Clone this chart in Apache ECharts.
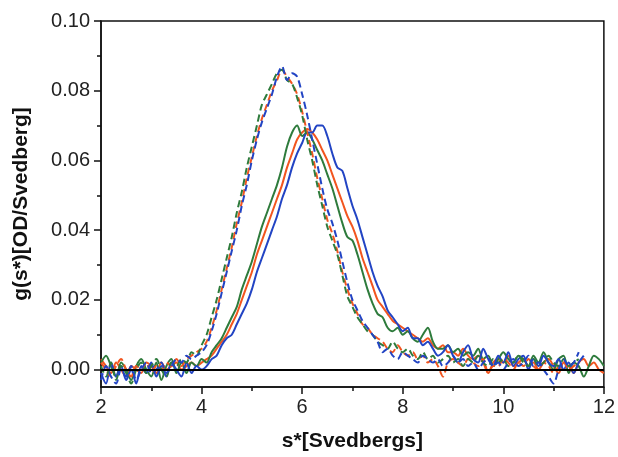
<!DOCTYPE html>
<html>
<head>
<meta charset="utf-8">
<script src="https://cdn.jsdelivr.net/npm/echarts@6/dist/echarts.min.js"></script>
<style>html,body{margin:0;padding:0;background:#fff;}#c{width:618px;height:457px;}</style>
</head>
<body>
<div id="c"></div>
<script>
// sedimentation coefficient grid (Svedbergs)
const sValues = [
 2.0,2.1,2.2,2.3,2.4,2.5,2.6,2.7,2.8,2.9,
 3.0,3.1,3.2,3.3,3.4,3.5,3.6,3.7,3.8,3.9,
 4.0,4.1,4.2,4.3,4.4,4.5,4.6,4.7,4.8,4.9,
 5.0,5.1,5.2,5.3,5.4,5.5,5.6,5.7,5.8,5.9,
 6.0,6.1,6.2,6.3,6.4,6.5,6.6,6.7,6.8,6.9,
 7.0,7.1,7.2,7.3,7.4,7.5,7.6,7.7,7.8,7.9,
 8.0,8.1,8.2,8.3,8.4,8.5,8.6,8.7,8.8,8.9,
 9.0,9.1,9.2,9.3,9.4,9.5,9.6,9.7,9.8,9.9,
 10.0,10.1,10.2,10.3,10.4,10.5,10.6,10.7,10.8,10.9,
 11.0,11.1,11.2,11.3,11.4,11.5,11.6,11.7,11.8,11.9,
 12.0
];
// solid curves
const solidGreen = [
 0.002,0.004,0.001,-0.002,0.002,0.000,-0.003,0.001,0.003,0.000,
 -0.002,0.002,-0.003,0.001,0.003,-0.001,0.002,-0.001,0.002,0.001,
 0.003,0.002,0.005,0.007,0.009,0.012,0.015,0.018,0.023,0.027,
 0.031,0.036,0.041,0.045,0.049,0.053,0.058,0.064,0.068,0.070,
 0.067,0.068,0.066,0.063,0.060,0.056,0.052,0.047,0.042,0.038,
 0.037,0.033,0.028,0.023,0.019,0.016,0.015,0.012,0.011,0.012,
 0.010,0.011,0.009,0.008,0.010,0.012,0.008,0.006,0.006,0.007,
 0.005,0.006,0.004,0.005,0.004,0.006,0.003,0.004,0.001,0.003,
 0.005,0.003,0.002,0.004,0.003,0.001,0.004,0.002,0.005,0.002,
 0.000,0.003,0.004,-0.001,0.002,0.001,-0.002,0.001,0.004,0.003,
 0.001
];
const solidOrange = [
 0.003,0.001,-0.001,0.002,0.000,-0.002,0.001,0.000,-0.001,0.002,
 0.001,-0.001,0.002,0.000,0.001,0.002,0.000,0.001,0.002,0.001,
 0.002,0.003,0.004,0.006,0.008,0.010,0.013,0.016,0.020,0.024,
 0.028,0.033,0.037,0.041,0.045,0.049,0.053,0.058,0.062,0.066,
 0.068,0.069,0.068,0.066,0.063,0.060,0.056,0.052,0.048,0.044,
 0.041,0.037,0.032,0.028,0.024,0.020,0.018,0.016,0.014,0.013,
 0.012,0.011,0.010,0.009,0.008,0.009,0.007,0.006,0.007,0.005,
 0.005,0.004,0.006,0.004,0.003,0.004,0.002,-0.001,0.002,0.003,
 0.002,0.004,0.001,0.002,0.003,0.001,0.002,0.000,0.002,0.003,
 0.001,-0.001,0.002,0.001,-0.001,0.002,0.003,0.001,0.002,0.000,
 -0.001
];
const solidBlue = [
 -0.001,-0.004,0.002,-0.002,0.001,-0.003,0.000,-0.004,0.001,-0.001,
 0.002,-0.002,0.001,-0.002,0.002,0.000,-0.002,0.002,-0.001,0.001,
 0.000,0.001,0.003,0.004,0.007,0.009,0.010,0.013,0.016,0.019,
 0.023,0.028,0.032,0.036,0.040,0.044,0.049,0.053,0.058,0.062,
 0.065,0.068,0.068,0.070,0.070,0.067,0.062,0.058,0.057,0.052,
 0.047,0.043,0.038,0.033,0.028,0.024,0.021,0.017,0.015,0.013,
 0.011,0.012,0.009,0.009,0.007,0.008,0.006,0.004,0.005,0.007,
 0.004,0.002,0.005,0.007,0.003,0.002,0.006,0.003,0.001,0.004,
 0.002,0.005,0.001,0.003,0.004,0.000,0.003,0.001,0.004,0.002,
 0.001,0.003,0.000,0.002,-0.001,0.002,0.004
];
// dashed curves
const dashedGreen = [
 0.001,-0.002,0.002,-0.003,0.001,-0.001,-0.004,0.000,0.002,-0.001,
 0.001,0.003,0.000,-0.002,0.002,0.001,0.003,0.002,0.005,0.004,
 0.007,0.010,0.015,0.020,0.026,0.032,0.038,0.045,0.051,0.058,
 0.064,0.070,0.076,0.079,0.082,0.085,0.086,0.083,0.082,0.078,
 0.073,0.066,0.060,0.053,0.047,0.041,0.037,0.033,0.027,0.021,
 0.018,0.015,0.013,0.011,0.010,0.008,0.007,0.006,0.008,0.006,
 0.005,0.006,0.004,0.003,0.005,0.003,0.004,0.002,0.003,0.004,
 0.002,0.003,0.001,0.003,0.002,0.004,0.002,0.001,0.003,0.002,
 0.003,0.001,0.002,0.004,0.002,0.001,0.003,0.001,0.002,0.004,
 0.002,0.001,0.003,0.001,0.002,0.003
];
const dashedOrange = [
 0.002,0.000,-0.002,0.001,0.003,0.000,-0.002,0.001,0.000,0.002,
 -0.001,0.001,0.000,0.002,0.001,0.003,0.001,0.003,0.004,0.005,
 0.006,0.008,0.012,0.017,0.023,0.029,0.035,0.042,0.048,0.055,
 0.061,0.067,0.072,0.076,0.080,0.083,0.086,0.084,0.082,0.079,
 0.074,0.068,0.062,0.055,0.049,0.043,0.039,0.034,0.028,0.023,
 0.019,0.016,0.013,0.012,0.010,0.009,0.008,0.006,0.005,0.007,
 0.005,0.004,0.005,0.003,0.004,0.002,0.003,0.001,-0.002,0.002,
 0.003,0.002,0.001,0.003,0.002,0.001,0.003,-0.001,0.001,0.001,
 0.003,0.002,0.000,0.002,0.001,0.003,0.001,0.000,0.002,0.001,
 -0.001,0.001,0.002,0.000,0.001,0.002
];
const dashedBlue = [
 -0.003,0.001,-0.002,-0.004,0.000,-0.002,0.001,-0.003,0.000,0.002,
 -0.001,0.000,0.002,-0.001,0.001,0.003,0.002,0.004,0.003,0.004,
 0.005,0.007,0.011,0.016,0.022,0.028,0.034,0.040,0.047,0.053,
 0.060,0.066,0.071,0.075,0.079,0.084,0.087,0.083,0.085,0.084,
 0.079,0.073,0.066,0.059,0.052,0.046,0.042,0.037,0.031,0.025,
 0.020,0.017,0.014,0.012,0.010,0.008,0.005,0.006,0.004,0.003,
 0.005,0.004,0.003,0.002,0.004,0.003,0.002,0.003,0.001,0.002,
 0.004,0.002,0.003,0.001,0.002,0.000,0.002,0.003,0.001,0.002,
 0.000,0.002,0.003,0.001,0.002,0.004,0.001,0.002,0.000,-0.002,
 -0.004,0.000,0.003,0.001,0.002,0.005
];
const yMajorTicks = [0, 0.02, 0.04, 0.06, 0.08, 0.10];
const yMinorTicks = [0.01, 0.03, 0.05, 0.07, 0.09];

const BLUE = '#2244c4', ORANGE = '#f2551f', GREEN = '#2e7b3c';
const pair = arr => arr.map((v, i) => [sValues[i], v]);
const mk = (name, arr, color, dashed) => ({
  name, type: 'line', data: pair(arr), showSymbol: false, symbol: 'none',
  smooth: 0.3, silent: true, animation: false,
  lineStyle: { color, width: 2, type: dashed ? [7, 4] : 'solid' }
});

const series = [
  mk('solidOrange', solidOrange, ORANGE, false),
  mk('solidGreen', solidGreen, GREEN, false),
  mk('solidBlue', solidBlue, BLUE, false),
  mk('dashedOrange', dashedOrange, ORANGE, true),
  mk('dashedGreen', dashedGreen, GREEN, true),
  mk('dashedBlue', dashedBlue, BLUE, true)
];
series[0].markLine = {
  silent: true, symbol: ['none', 'none'], label: { show: false },
  lineStyle: { color: '#000', width: 2, type: 'solid' },
  data: [{ yAxis: 0 }], animation: false
};

const FONT = 'Liberation Sans';
const chart = echarts.init(document.getElementById('c'), null, { renderer: 'canvas' });
chart.setOption({
  animation: false,
  backgroundColor: '#fff',
  grid: { left: 101, right: 12, top: 21, bottom: 64, show: true, borderColor: '#111', borderWidth: 1.5, containLabel: false },
  xAxis: {
    type: 'value', min: 2, max: 12, interval: 2,
    name: 's*[Svedbergs]', nameLocation: 'middle', nameGap: 44,
    nameTextStyle: { fontFamily: FONT, fontSize: 21, fontWeight: 'bold', color: '#111' },
    axisLine: { show: true, onZero: false, lineStyle: { color: '#111', width: 1.5 } },
    axisTick: { show: true, inside: false, length: 7, lineStyle: { color: '#111', width: 1.5 } },
    minorTick: { show: true, splitNumber: 2, length: 4, lineStyle: { color: '#111', width: 1.5 } },
    axisLabel: { fontFamily: FONT, fontSize: 20, color: '#222', margin: 10 },
    splitLine: { show: false }
  },
  yAxis: [{
    type: 'value', min: -0.005, max: 0.1,
    name: 'g(s*)[OD/Svedberg]', nameLocation: 'middle', nameGap: 69,
    nameTextStyle: { fontFamily: FONT, fontSize: 21, fontWeight: 'bold', color: '#111' },
    axisLine: { show: true, onZero: false, lineStyle: { color: '#111', width: 1.5 } },
    axisTick: { show: true, inside: false, length: 7, customValues: yMajorTicks, lineStyle: { color: '#111', width: 1.5 } },
    axisLabel: { fontFamily: FONT, fontSize: 20, color: '#222', margin: 11, customValues: yMajorTicks, formatter: v => v.toFixed(2) },
    splitLine: { show: false }
  }, {
    type: 'value', min: -0.005, max: 0.1, position: 'left', offset: 0,
    axisLine: { show: false },
    axisTick: { show: true, inside: false, length: 4, customValues: yMinorTicks, lineStyle: { color: '#111', width: 1.5 } },
    axisLabel: { show: false, customValues: yMinorTicks },
    splitLine: { show: false }
  }],
  series
});
</script>
</body>
</html>
